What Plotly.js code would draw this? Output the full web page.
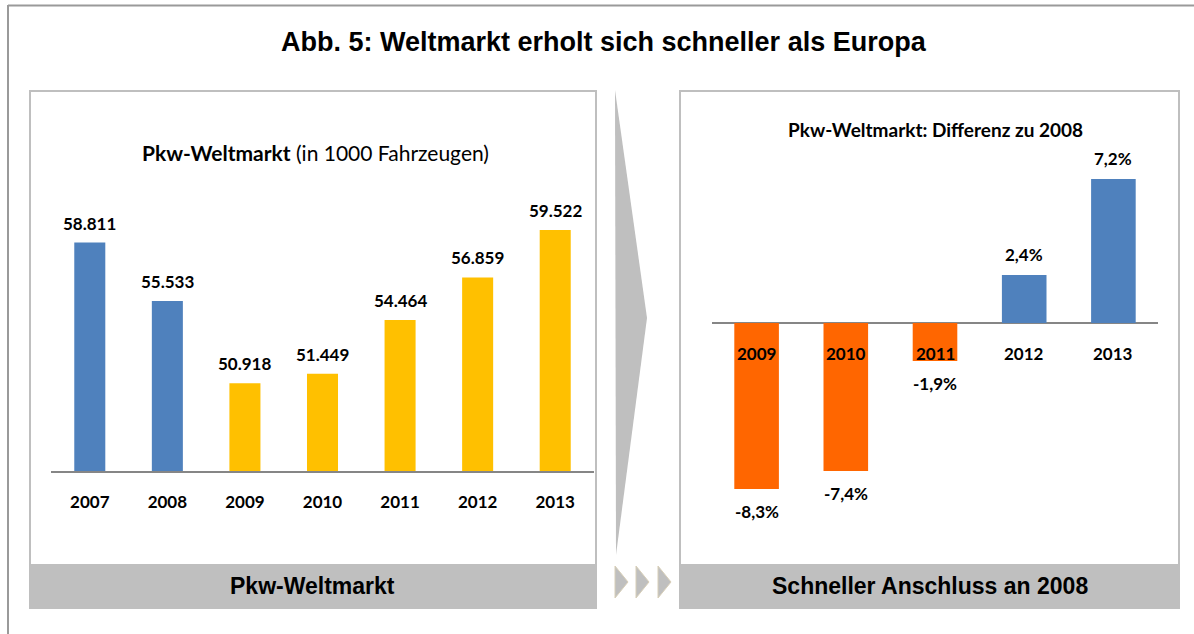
<!DOCTYPE html>
<html>
<head>
<meta charset="utf-8">
<script src="https://cdn.plot.ly/plotly-3.0.1.min.js"></script>
<style>
  html, body { margin: 0; padding: 0; background: #ffffff; }
  #chart { width: 1194px; height: 634px; }
</style>
</head>
<body>
<div id="chart"></div>
<script>
// ---- Data ----
const yearsLeft = ['2007', '2008', '2009', '2010', '2011', '2012', '2013'];
const salesThousands = [58811, 55533, 50918, 51449, 54464, 56859, 59522];
const colorsLeft = ['#4F81BD', '#4F81BD', '#FFC000', '#FFC000', '#FFC000', '#FFC000', '#FFC000'];

const yearsRight = ['2009', '2010', '2011', '2012', '2013'];
const diffPercent = [-8.3, -7.4, -1.9, 2.4, 7.2];
const colorsRight = ['#FF6600', '#FF6600', '#FF6600', '#4F81BD', '#4F81BD'];

const mainTitle = 'Abb. 5: Weltmarkt erholt sich schneller als Europa';
const leftSubtitle = '<b>Pkw-Weltmarkt</b> (in 1000 Fahrzeugen)';
const rightSubtitle = '<b>Pkw-Weltmarkt: Differenz zu 2008</b>';
const leftFooter = 'Pkw-Weltmarkt';
const rightFooter = 'Schneller Anschluss an 2008';

// ---- Helpers (pixel -> paper) ----
const W = 1194, H = 634;
const px = x => x / W;
const py = y => 1 - y / H;

const fmtThousands = v => v.toLocaleString('de-DE');
const fmtPct = v => (v < 0 ? '-' : '') + Math.abs(v).toFixed(1).replace('.', ',') + '%';

const labelFont = { family: 'Lato, "Noto Sans", sans-serif', size: 17, color: '#000000', weight: 'bold' };
const arialBold = (s) => ({ family: '"Liberation Sans", Arial, sans-serif', size: s, color: '#000000', weight: 'bold' });

const traces = [
  {
    type: 'bar', x: yearsLeft, y: salesThousands, width: 0.4,
    marker: { color: colorsLeft, line: { width: 0 } },
    xaxis: 'x', yaxis: 'y', hoverinfo: 'x+y', showlegend: false
  },
  {
    type: 'bar', x: yearsRight, y: diffPercent, width: 0.5,
    marker: { color: colorsRight, line: { width: 0 } },
    xaxis: 'x2', yaxis: 'y2', hoverinfo: 'x+y', showlegend: false
  }
];

const annotations = [];
// main title
annotations.push({
  xref: 'paper', yref: 'paper', x: px(604), y: py(42), xanchor: 'center', yanchor: 'middle',
  text: mainTitle, showarrow: false, font: arialBold(27)
});
// subtitles
annotations.push({
  xref: 'paper', yref: 'paper', x: px(315), y: py(152), xanchor: 'center', yanchor: 'middle',
  text: leftSubtitle, showarrow: false,
  font: { family: 'Lato, "Noto Sans", sans-serif', size: 21, color: '#000000' }
});
annotations.push({
  xref: 'paper', yref: 'paper', x: px(935), y: py(129), xanchor: 'center', yanchor: 'middle',
  text: rightSubtitle, showarrow: false,
  font: { family: 'Lato, "Noto Sans", sans-serif', size: 19, color: '#000000' }
});
// footers
annotations.push({
  xref: 'paper', yref: 'paper', x: px(312), y: py(586), xanchor: 'center', yanchor: 'middle',
  text: leftFooter, showarrow: false, font: arialBold(23)
});
annotations.push({
  xref: 'paper', yref: 'paper', x: px(930), y: py(586), xanchor: 'center', yanchor: 'middle',
  text: rightFooter, showarrow: false, font: arialBold(23)
});
// left value labels (x given as category index)
yearsLeft.forEach((yr, i) => {
  annotations.push({
    xref: 'x', yref: 'y', x: i, y: salesThousands[i], xanchor: 'center', yanchor: 'bottom',
    yshift: 7, text: fmtThousands(salesThousands[i]), showarrow: false, font: labelFont
  });
});
// right value labels and category labels
yearsRight.forEach((yr, i) => {
  const v = diffPercent[i];
  annotations.push({
    xref: 'x2', yref: 'y2', x: i, y: v, xanchor: 'center',
    yanchor: v >= 0 ? 'bottom' : 'top', yshift: v >= 0 ? 8 : -10,
    text: fmtPct(v), showarrow: false, font: labelFont
  });
  annotations.push({
    xref: 'x2', yref: 'y2', x: i, y: 0, xanchor: 'center', yanchor: 'middle',
    yshift: -30, text: yr, showarrow: false, font: labelFont
  });
});

const shapes = [
  // outer frame (top + left)
  { type: 'line', xref: 'paper', yref: 'paper', x0: px(8), x1: px(1194), y0: py(5.5), y1: py(5.5),
    line: { color: '#9A9A9A', width: 2 }, layer: 'below' },
  { type: 'line', xref: 'paper', yref: 'paper', x0: px(8), x1: px(8), y0: py(5), y1: py(634),
    line: { color: '#9A9A9A', width: 2 }, layer: 'below' },
  // left panel
  { type: 'rect', xref: 'paper', yref: 'paper', x0: px(30), x1: px(596), y0: py(91), y1: py(565),
    line: { color: '#BFBFBF', width: 2 }, fillcolor: '#FFFFFF', layer: 'below' },
  { type: 'rect', xref: 'paper', yref: 'paper', x0: px(29), x1: px(597), y0: py(565), y1: py(609),
    line: { width: 0 }, fillcolor: '#BFBFBF', layer: 'below' },
  // right panel
  { type: 'rect', xref: 'paper', yref: 'paper', x0: px(680), x1: px(1179), y0: py(91), y1: py(565),
    line: { color: '#BFBFBF', width: 2 }, fillcolor: '#FFFFFF', layer: 'below' },
  { type: 'rect', xref: 'paper', yref: 'paper', x0: px(679), x1: px(1180), y0: py(565), y1: py(609),
    line: { width: 0 }, fillcolor: '#BFBFBF', layer: 'below' },
  // big chevron arrow
  { type: 'path', xref: 'paper', yref: 'paper',
    path: `M ${px(615)} ${py(90)} L ${px(647)} ${py(318)} L ${px(616)} ${py(555)} Z`,
    line: { width: 0 }, fillcolor: '#BFBFBF', layer: 'below' }
];
// small triangles
[615, 636, 658].forEach(x0 => {
  shapes.push({ type: 'path', xref: 'paper', yref: 'paper',
    path: `M ${px(x0)} ${py(566)} L ${px(x0 + 13)} ${py(582)} L ${px(x0)} ${py(598)} Z`,
    line: { color: '#D8CFB8', width: 1 }, fillcolor: '#BFBFBF', layer: 'below' });
});

const layout = {
  width: W, height: H,
  margin: { l: 0, r: 0, t: 0, b: 0, pad: 0 },
  paper_bgcolor: '#FFFFFF', plot_bgcolor: 'rgba(0,0,0,0)',
  showlegend: false,
  xaxis: {
    domain: [px(51), px(594)], anchor: 'y', type: 'category',
    range: [-0.5, yearsLeft.length - 0.5],
    showline: true, linecolor: '#868686', linewidth: 2, ticks: '',
    showgrid: false, zeroline: false, fixedrange: true,
    tickfont: labelFont, ticklabelstandoff: 15
  },
  yaxis: {
    domain: [py(471), py(200)], anchor: 'x', range: [46000, 61200],
    visible: false, showgrid: false, zeroline: false, fixedrange: true
  },
  xaxis2: {
    domain: [px(712), px(1158)], anchor: 'y2', type: 'category',
    range: [-0.5, yearsRight.length - 0.5],
    showline: false, showticklabels: false, ticks: '', showgrid: false, zeroline: false, fixedrange: true
  },
  yaxis2: {
    domain: [py(520), py(150)], anchor: 'x2', range: [-9.85, 8.65],
    showticklabels: false, ticks: '', showgrid: false, showline: false,
    zeroline: true, zerolinecolor: '#868686', zerolinewidth: 2, fixedrange: true
  },
  shapes: shapes,
  annotations: annotations
};

Plotly.newPlot('chart', traces, layout, { displayModeBar: false, staticPlot: true });
</script>
</body>
</html>
